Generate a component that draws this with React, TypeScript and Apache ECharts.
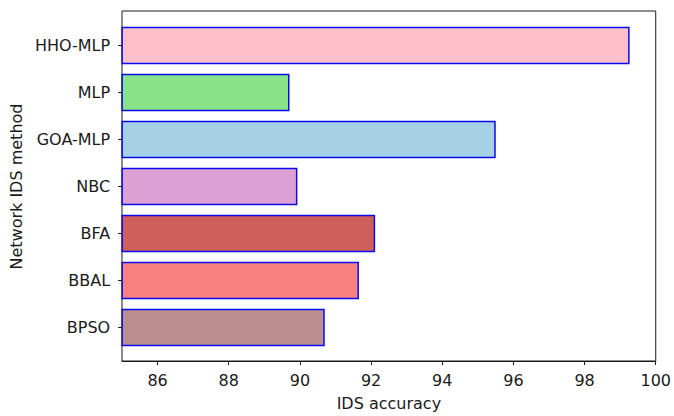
import React, { useEffect, useRef } from "react";
import * as echarts from "echarts";

// Methods listed top to bottom, with their IDS accuracy (%)
const methods = ["HHO-MLP", "MLP", "GOA-MLP", "NBC", "BFA", "BBAL", "BPSO"];
const accuracy = [99.1, 89.65, 95.38, 89.87, 92.03, 91.58, 90.63];
const barColors = ["#FFC0CB", "#88E288", "#A6D0E4", "#DDA0D5", "#D05E5A", "#F88080", "#BC8F8F"];
const xTicks = [86, 88, 90, 92, 94, 96, 98, 100];

const X_MIN = 85;
const X_MAX = 100;
const FONT = "DejaVu Sans";
const INK = "#1a1a1a";
const FS = 16;

export default function App() {
  const ref = useRef<HTMLDivElement>(null);

  useEffect(() => {
    if (!ref.current) return;
    const chart = echarts.init(ref.current, null, { renderer: "svg" });

    chart.setOption({
      animation: false,
      backgroundColor: "#ffffff",
      textStyle: { fontFamily: FONT },
      grid: [
        // outer frame with the accuracy axis
        {
          left: 122,
          right: 12,
          top: 11,
          bottom: 54,
          show: true,
          borderColor: INK,
          borderWidth: 1,
          backgroundColor: "transparent",
        },
        // inner band region holding the bars
        { left: 122, right: 12, top: 22, height: 329, show: false },
      ],
      xAxis: [
        {
          type: "value",
          gridIndex: 0,
          min: X_MIN,
          max: X_MAX,
          name: "IDS accuracy",
          nameLocation: "middle",
          nameGap: 34,
          nameTextStyle: { fontSize: FS, color: INK, fontFamily: FONT },
          axisLine: { show: true, lineStyle: { color: INK, width: 1 } },
          axisTick: {
            show: true,
            length: 4,
            customValues: xTicks,
            lineStyle: { color: INK, width: 1 },
          },
          axisLabel: {
            show: true,
            customValues: xTicks,
            margin: 11,
            fontSize: FS,
            color: INK,
            fontFamily: FONT,
          },
          splitLine: { show: false },
        },
        {
          type: "value",
          gridIndex: 1,
          min: X_MIN,
          max: X_MAX,
          show: false,
          splitLine: { show: false },
        },
      ],
      yAxis: [
        {
          type: "value",
          gridIndex: 0,
          min: 0,
          max: 1,
          show: false,
          splitLine: { show: false },
        },
        {
          type: "category",
          gridIndex: 1,
          inverse: true,
          data: methods,
          name: "Network IDS method",
          nameLocation: "middle",
          nameGap: 96,
          nameTextStyle: { fontSize: FS, color: INK, fontFamily: FONT },
          axisLine: { show: false },
          axisTick: {
            show: true,
            alignWithLabel: true,
            length: 4,
            lineStyle: { color: INK, width: 1 },
          },
          axisLabel: {
            margin: 12,
            fontSize: FS,
            color: INK,
            fontFamily: FONT,
          },
          splitLine: { show: false },
        },
      ],
      series: [
        {
          type: "bar",
          xAxisIndex: 1,
          yAxisIndex: 1,
          barWidth: "80%",
          data: accuracy.map((v, i) => ({
            value: v,
            itemStyle: {
              color: barColors[i],
              borderColor: "#0a0aee",
              borderWidth: 1.5,
            },
          })),
        },
      ],
    });

    return () => chart.dispose();
  }, []);

  return (
    <div
      ref={ref}
      style={{ position: "absolute", left: 0, top: 0, width: 674, height: 416 }}
    />
  );
}
